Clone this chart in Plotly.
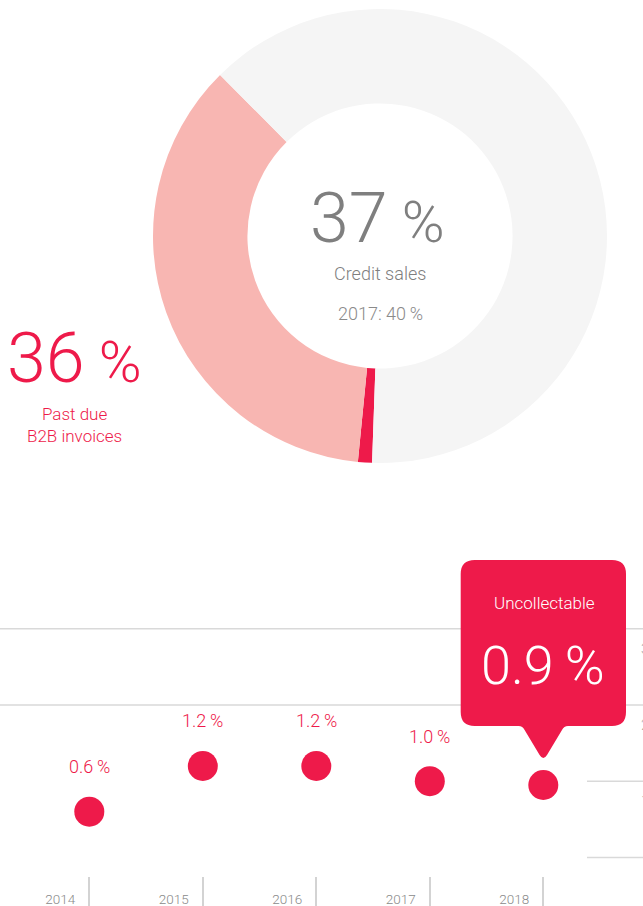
import plotly.graph_objects as go

W, H = 643, 906

# ---- data ----
pie_labels = ["Uncollectable", "Past due B2B invoices", "Other credit sales"]
pie_values = [1, 36, 63]

years = [2014, 2015, 2016, 2017, 2018]
rates = [0.6, 1.2, 1.2, 1.0, 0.95]
rate_labels = ["0.6\u2009%", "1.2\u2009%", "1.2\u2009%", "1.0\u2009%", "0.9\u2009%"]
year_labels = ["2014", "2015", "2016", "2017", "2018"]
y_ticks = [0, 1, 2, 3]
y_tick_labels = ["0", "1", "2", "3"]

# ---- style ----
RED = "#EE1A4A"
PINK = "#F8B6B2"
LIGHT = "#F5F5F5"
GREY = "#7f7f7f"
FONT = "Roboto, Liberation Sans Narrow, sans-serif"
WT = 300


def px(x):
    return x / W


def py(y):
    return 1 - y / H


fig = go.Figure()

fig.add_trace(go.Pie(
    labels=pie_labels, values=pie_values, hole=0.584, sort=False,
    direction="clockwise", rotation=182,
    marker=dict(colors=[RED, PINK, LIGHT], line=dict(width=0)),
    textinfo="none", hoverinfo="label+percent",
    domain=dict(x=[px(153), px(607)], y=[py(463), py(9)]),
))

fig.add_trace(go.Scatter(
    x=years, y=rates, mode="markers",
    marker=dict(size=30, color=RED, line=dict(width=0)),
    hoverinfo="x+y", xaxis="x", yaxis="y",
))

# axes mapping
x_px0, x_step = 89.3, 113.5
zero_px, unit_px = 857.4, 76.2
x_range = [years[0] - x_px0 / x_step, years[0] + (W - x_px0) / x_step]
y_top_px = 560
y_range = [-(H - zero_px) / unit_px, (zero_px - y_top_px) / unit_px]

fig.update_layout(
    width=W, height=H, autosize=False,
    margin=dict(l=0, r=0, t=0, b=0, pad=0, autoexpand=False),
    paper_bgcolor="white", plot_bgcolor="white",
    showlegend=False,
    font=dict(family=FONT, color=GREY, weight=WT),
    xaxis=dict(
        domain=[0, 1], range=x_range, tickvals=years, ticktext=year_labels,
        ticks="inside", ticklen=29, tickwidth=1.5, tickcolor="#d3d3d3",
        showgrid=False, zeroline=False, showline=False,
        ticklabelposition="inside", ticklabelshift=-29, ticklabelstandoff=-30,
        tickfont=dict(size=13.5, color="#8a8a8a", family=FONT, weight=WT),
        anchor="y", fixedrange=True, automargin=False,
    ),
    yaxis=dict(
        domain=[0, py(y_top_px)], range=y_range,
        showgrid=False, zeroline=False, showline=False, showticklabels=False,
        ticks="", fixedrange=True, automargin=False,
    ),
)

shapes = []
for v in y_ticks:
    shapes.append(dict(
        type="line", xref="paper", yref="y",
        x0=0 if v >= 2 else px(587), x1=1, y0=v, y1=v,
        line=dict(color="#d9d9d9", width=1.5), layer="below",
    ))

# callout box with pointer
L, R, T, B, r = 460.7, 626, 560, 726, 14
pts = [
    ("M", [(L + r, T)]),
    ("L", [(R - r, T)]),
    ("Q", [(R, T), (R, T + r)]),
    ("L", [(R, B - r)]),
    ("Q", [(R, B), (R - r, B)]),
    ("L", [(568, B)]),
    ("Q", [(564, B), (562, B + 4)]),
    ("L", [(547, 755)]),
    ("Q", [(543.3, 761), (539.6, 755)]),
    ("L", [(524.6, B + 4)]),
    ("Q", [(522.6, B), (518.6, B)]),
    ("L", [(L + r, B)]),
    ("Q", [(L, B), (L, B - r)]),
    ("L", [(L, T + r)]),
    ("Q", [(L, T), (L + r, T)]),
]
path = ""
for cmd, cs in pts:
    path += cmd + " " + " ".join(f"{px(a):.5f},{py(b):.5f}" for a, b in cs) + " "
path += "Z"
shapes.append(dict(type="path", xref="paper", yref="paper", path=path,
                   fillcolor=RED, line=dict(width=0), layer="above"))
fig.update_layout(shapes=shapes)

ann = []


def txt(x, y, text, size, color, **kw):
    d = dict(x=px(x), y=py(y), xref="paper", yref="paper", text=text,
             showarrow=False,
             font=dict(size=size, color=color, family=FONT, weight=WT),
             xanchor="center", yanchor="middle")
    d.update(kw)
    ann.append(d)


txt(377, 218, "37<span style='font-size:58px'> %</span>", 70, GREY)
txt(380, 273, "Credit sales", 18, GREY)
txt(380, 313, "2017: 40\u2009%", 18, "#8a8a8a")
txt(74, 358, "36<span style='font-size:58px'> %</span>", 70, RED)
txt(74, 425, "Past due<br>B2B invoices", 17, RED)
txt(544, 603, "Uncollectable", 17, "white")
txt(543, 665, rate_labels[-1], 54, "white")

for yr, v, lab in zip(years[:-1], rates[:-1], rate_labels[:-1]):
    ann.append(dict(x=yr, y=v, xref="x", yref="y", text=lab, showarrow=False,
                    yshift=45,
                    font=dict(size=18, color=RED, family=FONT, weight=WT),
                    xanchor="center", yanchor="middle"))

for v, lab in zip(y_ticks[1:], y_tick_labels[1:]):
    ann.append(dict(x=px(639), y=v, xref="paper", yref="y", text=lab,
                    showarrow=False, yshift=-20,
                    font=dict(size=15, color="#aaaaaa", family=FONT, weight=WT),
                    xanchor="left", yanchor="middle"))

fig.update_layout(annotations=ann)

fig.write_html("out.html", config=dict(responsive=False, displayModeBar=False),
               post_script="document.body.style.margin='0';")
